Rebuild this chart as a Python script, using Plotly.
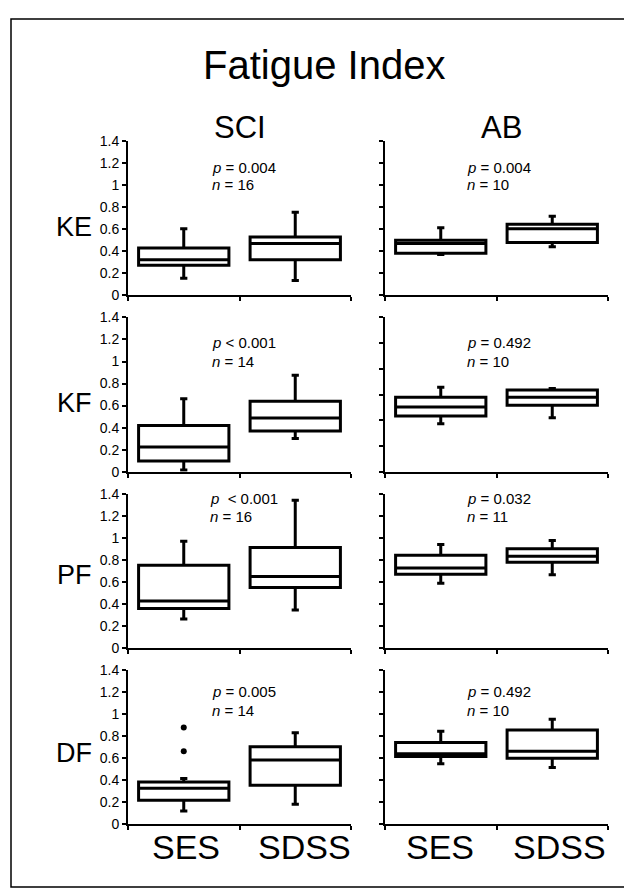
import plotly.graph_objects as go

# ---------------- data ----------------
rows = ["KE", "KF", "PF", "DF"]
groups = ["SCI", "AB"]
conditions = ["SES", "SDSS"]

# per muscle row: KE, KF, PF, DF
sci_ses_lower = [0.15, 0.015, 0.268, 0.119]
sci_ses_q1 = [0.27, 0.097, 0.363, 0.217]
sci_ses_median = [0.32, 0.224, 0.43, 0.326]
sci_ses_q3 = [0.425, 0.42, 0.756, 0.383]
sci_ses_upper = [0.60, 0.663, 0.973, 0.415]

sci_sdss_lower = [0.13, 0.30, 0.348, 0.181]
sci_sdss_q1 = [0.32, 0.37, 0.553, 0.353]
sci_sdss_median = [0.467, 0.486, 0.652, 0.582]
sci_sdss_q3 = [0.526, 0.64, 0.917, 0.703]
sci_sdss_upper = [0.75, 0.875, 1.345, 0.831]

ab_ses_lower = [0.366, 0.373, 0.592, 0.548]
ab_ses_q1 = [0.378, 0.434, 0.673, 0.614]
ab_ses_median = [0.467, 0.503, 0.73, 0.64]
ab_ses_q3 = [0.497, 0.58, 0.845, 0.742]
ab_ses_upper = [0.61, 0.656, 0.943, 0.844]

ab_sdss_lower = [0.437, 0.419, 0.67, 0.515]
ab_sdss_q1 = [0.476, 0.516, 0.783, 0.599]
ab_sdss_median = [0.60, 0.58, 0.836, 0.662]
ab_sdss_q3 = [0.642, 0.636, 0.905, 0.856]
ab_sdss_upper = [0.714, 0.648, 0.979, 0.952]

# outliers (DF, SCI, SES)
df_sci_ses_outliers = [0.662, 0.878]

sci_p_text = ["= 0.004", "< 0.001", " < 0.001", "= 0.005"]
sci_n = [16, 14, 16, 14]
ab_p_text = ["= 0.004", "= 0.492", "= 0.032", "= 0.492"]
ab_n = [10, 10, 11, 10]

y_max = [[1.4, 1.4], [1.4, 1.2], [1.4, 1.4], [1.4, 1.4]]
y_ticks = [0, 0.2, 0.4, 0.6, 0.8, 1, 1.2, 1.4]
y_ticklabels = ["0", "0.2", "0.4", "0.6", "0.8", "1", "1.2", "1.4"]

# ---------------- layout geometry ----------------
W, H = 632, 889
FONT = "Liberation Sans, Arial, Helvetica, sans-serif"


def px(x):
    return x / W


def py(y):
    return 1 - y / H


col_px = [(120, 343), (377, 600)]
row_px = [(127, 284), (307, 464), (487, 644), (666, 823)]

stats = {
    "SCI": [(sci_ses_lower, sci_ses_q1, sci_ses_median, sci_ses_q3, sci_ses_upper),
            (sci_sdss_lower, sci_sdss_q1, sci_sdss_median, sci_sdss_q3, sci_sdss_upper)],
    "AB": [(ab_ses_lower, ab_ses_q1, ab_ses_median, ab_ses_q3, ab_ses_upper),
           (ab_sdss_lower, ab_sdss_q1, ab_sdss_median, ab_sdss_q3, ab_sdss_upper)],
}

fig = go.Figure()
layout_axes = {}
annotations = []

idx = 0
for r, rname in enumerate(rows):
    for c, gname in enumerate(groups):
        idx += 1
        xa = "x" if idx == 1 else f"x{idx}"
        ya = "y" if idx == 1 else f"y{idx}"
        xkey = "xaxis" if idx == 1 else f"xaxis{idx}"
        ykey = "yaxis" if idx == 1 else f"yaxis{idx}"
        for k, cond in enumerate(conditions):
            lo, q1, med, q3, up = stats[gname][k]
            fig.add_trace(go.Box(
                x=[k], q1=[q1[r]], median=[med[r]], q3=[q3[r]],
                lowerfence=[lo[r]], upperfence=[up[r]],
                width=0.81, whiskerwidth=0.08,
                fillcolor="white", line=dict(color="black", width=3),
                boxpoints=False, showlegend=False, name=cond,
                xaxis=xa, yaxis=ya, hoverinfo="skip",
            ))
        if rname == "DF" and gname == "SCI":
            fig.add_trace(go.Scatter(
                x=[0] * len(df_sci_ses_outliers), y=df_sci_ses_outliers,
                mode="markers", marker=dict(color="black", size=6),
                showlegend=False, xaxis=xa, yaxis=ya, hoverinfo="skip",
            ))
        x0, x1 = col_px[c]
        y0, y1 = row_px[r]
        ymax = y_max[r][c]
        tv = [t for t in y_ticks if t <= ymax + 1e-9]
        layout_axes[xkey] = dict(
            domain=[px(x0), px(x1)], range=[-0.5, 1.5], anchor=ya,
            showgrid=False, zeroline=False, showline=True, linecolor="black",
            linewidth=2, ticks="outside", ticklen=4, tickwidth=2,
            tickcolor="black", tickvals=[-0.5, 0.5, 1.5], showticklabels=False,
            fixedrange=True,
        )
        layout_axes[ykey] = dict(
            domain=[py(y1), py(y0)], range=[0, ymax], anchor=xa,
            showgrid=False, zeroline=False, showline=True, linecolor="black",
            linewidth=2, ticks="outside", ticklen=4, tickwidth=2,
            tickcolor="black", tickvals=tv,
            ticktext=y_ticklabels[:len(tv)], showticklabels=(c == 0),
            tickfont=dict(family=FONT, size=14, color="black"),
            fixedrange=True,
        )

# p / n annotations
p_pos = [(154, 172), (332, 352), (491, 510), (688, 707)]
for r in range(4):
    for c, (ptxt, nval) in enumerate([(sci_p_text[r], sci_n[r]), (ab_p_text[r], ab_n[r])]):
        xl = 202 if c == 0 else 457
        if r == 2 and c == 0:
            xl = 200
        annotations.append(dict(
            x=px(xl), y=py(p_pos[r][0]), xref="paper", yref="paper",
            xanchor="left", yanchor="middle", showarrow=False,
            text=f"<i>p</i> {ptxt}", font=dict(family=FONT, size=15, color="black"),
        ))
        annotations.append(dict(
            x=px(xl), y=py(p_pos[r][1]), xref="paper", yref="paper",
            xanchor="left", yanchor="middle", showarrow=False,
            text=f"<i>n</i> = {nval}", font=dict(family=FONT, size=15, color="black"),
        ))

# row labels
row_label_y = [215, 394, 569, 750]
for r, rname in enumerate(rows):
    annotations.append(dict(
        x=px(86), y=py(row_label_y[r]), xref="paper", yref="paper",
        xanchor="right", yanchor="middle", showarrow=False,
        text=rname, font=dict(family=FONT, size=27, color="black"),
    ))

# column headers
for c, gname in enumerate(groups):
    annotations.append(dict(
        x=px((col_px[c][0] + col_px[c][1]) / 2 + (0 if c == 0 else 5)), y=py(114),
        xref="paper", yref="paper", xanchor="center", yanchor="middle",
        showarrow=False, text=gname,
        font=dict(family=FONT, size=31, color="black"),
    ))

# condition labels
cond_x = [[178, 296], [432, 551]]
for c in range(2):
    for k, cond in enumerate(conditions):
        annotations.append(dict(
            x=px(cond_x[c][k]), y=py(846), xref="paper", yref="paper",
            xanchor="center", yanchor="middle", showarrow=False, text=cond,
            font=dict(family=FONT, size=34, color="black"),
        ))

# title
annotations.append(dict(
    x=px(316), y=py(50), xref="paper", yref="paper", xanchor="center",
    yanchor="middle", showarrow=False, text="Fatigue Index",
    font=dict(family=FONT, size=40, color="black"),
))

fig.update_layout(
    width=W, height=H, margin=dict(l=0, r=0, t=0, b=0),
    paper_bgcolor="white", plot_bgcolor="white",
    annotations=annotations, showlegend=False,
    shapes=[dict(type="rect", xref="paper", yref="paper",
                 x0=px(3), x1=px(631), y0=py(887), y1=py(3),
                 line=dict(color="black", width=1.5))],
    **layout_axes,
)

fig.write_html("out.html")
